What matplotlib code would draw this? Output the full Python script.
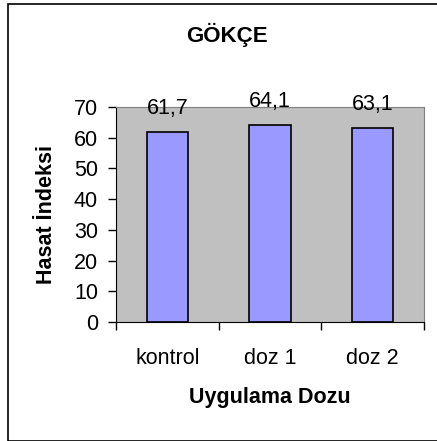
import matplotlib.pyplot as plt
from matplotlib.patches import Rectangle

plt.rcParams['font.family'] = ['Liberation Sans', 'DejaVu Sans']

categories = ["kontrol", "doz 1", "doz 2"]
values = [61.7, 64.1, 63.1]
value_labels = ["61,7", "64,1", "63,1"]
yticks = [0, 10, 20, 30, 40, 50, 60, 70]

fig = plt.figure(figsize=(4.37, 4.41), dpi=100)
fig.patch.set_facecolor("white")

# outer chart border
fig.patches.append(Rectangle((7.5 / 437, 0.5 / 441), 1.0, 436.5 / 441, transform=fig.transFigure,
                             fill=False, edgecolor="black", linewidth=1.2))

ax = fig.add_axes([116 / 437, 1 - 322 / 441, (424 - 116) / 437, (322 - 107) / 441])
ax.set_facecolor("#C0C0C0")

x = list(range(len(categories)))
ax.bar(x, values, width=0.4, color="#9999FF", edgecolor="black", linewidth=1.2, zorder=3)

for xi, v, lab in zip(x, values, value_labels):
    ax.annotate(lab, (xi, v), xytext=(0, 17), textcoords="offset points",
                ha="center", va="center", fontsize=15.5, zorder=4, annotation_clip=False)

ax.set_xlim(-0.5, 2.5)
ax.set_ylim(0, 70)
ax.set_yticks(yticks)
ax.set_yticklabels([str(t) for t in yticks], fontsize=15.5)
ax.set_xticks([-0.5, 0.5, 1.5, 2.5])
ax.set_xticklabels([])
ax.set_xticks(x, minor=True)
ax.set_xticklabels(categories, minor=True, fontsize=15.5)
ax.tick_params(axis="x", which="minor", length=0, pad=19)
ax.tick_params(axis="x", which="major", length=6, width=1, direction="out")
ax.tick_params(axis="y", length=6, width=1, direction="out", pad=7)

for side in ["top", "right"]:
    ax.spines[side].set_color("#808080")
for side in ["left", "bottom"]:
    ax.spines[side].set_color("black")

fig.text(227 / 437, 1 - 35 / 441, "GÖKÇE", ha="center", va="center",
         fontsize=16, fontweight="bold")
fig.text(270 / 437, 1 - 397 / 441, "Uygulama Dozu", ha="center", va="center",
         fontsize=15.5, fontweight="bold")
fig.text(46 / 437, 1 - 215 / 441, "Hasat İndeksi", ha="center", va="center",
         rotation=90, fontsize=15.5, fontweight="bold")

plt.savefig("out.png", dpi=100)
